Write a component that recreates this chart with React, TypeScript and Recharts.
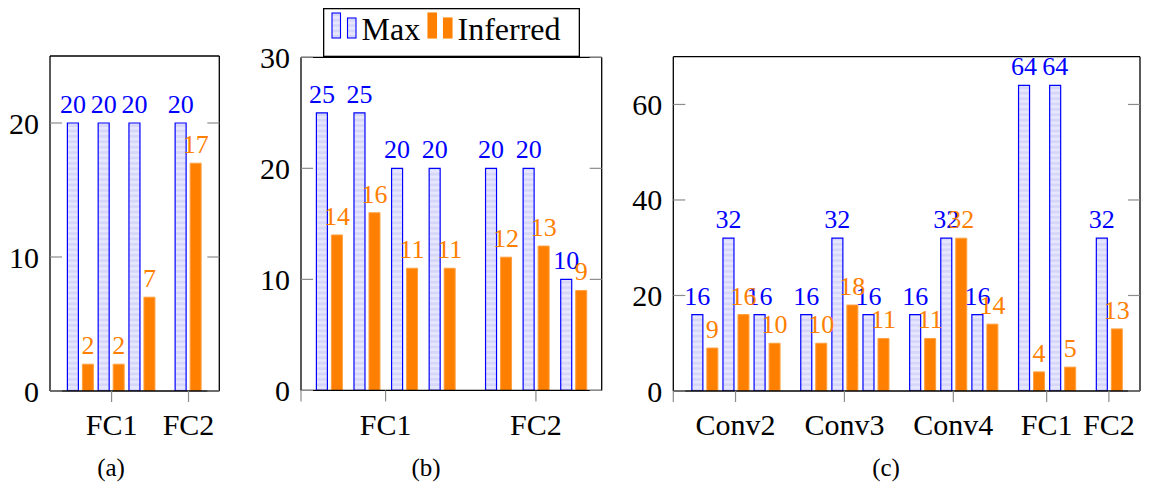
import React from 'react';
import { BarChart, Bar, XAxis, YAxis, LabelList, Legend } from 'recharts';

const W = 1159;
const H = 489;
const FONT = '"Liberation Serif", "Times New Roman", serif';
const BLUE = '#0000ff';
const ORANGE = '#ff8000';
const ORANGE_EDGE = '#ffa040';
const TICK_GRAY = '#8c8c8c';

// ---------- Panel (a) ----------
const aPositions = [0, 1, 2, 3.5];
const aMax = [20, 20, 20, 20];
const aInferred = [2, 2, 7, 17];
const aTickPositions = [1, 3.5];
const aTickLabels = ['FC1', 'FC2'];
const aYTicks = [0, 10, 20];

// ---------- Panel (b) ----------
const bPositions = [0, 1, 2, 3, 4.5, 5.5, 6.5];
const bMax = [25, 25, 20, 20, 20, 20, 10];
const bInferred = [14, 16, 11, 11, 12, 13, 9];
const bTickPositions = [-0.75, 1.5, 5.5];
const bTickLabels = ['', 'FC1', 'FC2'];
const bYTicks = [0, 10, 20, 30];

// ---------- Panel (c) ----------
const cPositions = [0, 1, 2, 3.5, 4.5, 5.5, 7, 8, 9, 10.5, 11.5, 13];
const cMax = [16, 32, 16, 16, 32, 16, 16, 32, 16, 64, 64, 32];
const cInferred = [9, 16, 10, 10, 18, 11, 11, 32, 14, 4, 5, 13];
const cTickPositions = [-1, 1, 4.5, 8, 11, 13];
const cTickLabels = ['', 'Conv2', 'Conv3', 'Conv4', 'FC1', 'FC2'];
const cYTicks = [0, 20, 40, 60];

const seriesNames = ['Max', 'Inferred'];
const captions = ['(a)', '(b)', '(c)'];

function buildRows(pos: number[], max: number[], inf: number[]) {
  return pos.map((p, i) => ({ pos: p, max: max[i], inferred: inf[i] }));
}

const YW = 40;
const XH = 60;
const TICK_LEN = 12;

const LeftTick = (props: any) => {
  const { x, y, payload } = props;
  const axisX = x + 11;
  return (
    <g>
      <line x1={axisX} x2={axisX + TICK_LEN} y1={y} y2={y} stroke={TICK_GRAY} strokeWidth={1.2} />
      <text x={x} y={y} dy="0.35em" textAnchor="end" fill="#000" fontSize={30} fontFamily={FONT}>
        {payload.value}
      </text>
    </g>
  );
};

const RightTick = (props: any) => {
  const { x, y } = props;
  return <line x1={x - TICK_LEN} x2={x} y1={y} y2={y} stroke={TICK_GRAY} strokeWidth={1.2} />;
};

const LegendBox = (props: any) => {
  const payload = (props.payload || []) as any[];
  const entryX = [9, 105];
  const textX = [38.5, 134.5];
  return (
    <svg width={257} height={49} style={{ display: 'block' }}>
      <rect x={0.65} y={0.65} width={255.7} height={47.7} fill="#fff" stroke="#000" strokeWidth={1.3} />
      {seriesNames.map((name, i) => {
        const isMax = i === 0;
        const fill = isMax ? 'url(#maxStripes)' : ORANGE;
        const stroke = isMax ? BLUE : ORANGE;
        const ex = entryX[i];
        const entry = payload.find((p: any) => p.value === name);
        const label = entry ? entry.value : name;
        return (
          <g key={name}>
            <rect x={ex} y={5} width={8.5} height={25} fill={fill} stroke={stroke} strokeWidth={1.1} />
            <rect x={ex + 15.5} y={10} width={8.5} height={20} fill={fill} stroke={stroke} strokeWidth={1.1} />
            <text x={textX[i]} y={31.7} fontSize={32} fontFamily={FONT} fill="#000">
              {label}
            </text>
          </g>
        );
      })}
    </svg>
  );
};

type PanelProps = {
  rows: any[];
  xDomain: [number, number];
  xTicks: number[];
  xLabels: string[];
  yDomain: [number, number];
  yTicks: number[];
  box: { left: number; right: number; top: number; bottom: number };
  legend?: boolean;
};

const Panel = ({ rows, xDomain, xTicks, xLabels, yDomain, yTicks, box, legend }: PanelProps) => {
  const fmt = (v: number) => {
    const i = xTicks.indexOf(v);
    return i >= 0 ? xLabels[i] : '';
  };
  return (
    <div style={{ position: 'absolute', left: 0, top: 0, width: W, height: H }}>
      <BarChart
        width={W}
        height={H}
        data={rows}
        barGap={4}
        margin={{
          top: box.top - 1,
          left: box.left - YW,
          right: W - box.right - 1,
          bottom: H - box.bottom - XH,
        }}
      >
        <XAxis
          xAxisId="b"
          dataKey="pos"
          type="number"
          domain={xDomain}
          ticks={xTicks}
          interval={0}
          allowDataOverflow
          tickFormatter={fmt}
          height={XH}
          axisLine={{ stroke: '#000', strokeWidth: 1.3 }}
          tickLine={{ stroke: TICK_GRAY, strokeWidth: 1.2 }}
          tickSize={11}
          tickMargin={12}
          tick={{ fill: '#000', fontSize: 30, fontFamily: FONT }}
        />
        <XAxis
          xAxisId="t"
          orientation="top"
          dataKey="pos"
          type="number"
          domain={xDomain}
          ticks={xTicks}
          interval={0}
          allowDataOverflow
          height={1}
          axisLine={{ stroke: '#000', strokeWidth: 1.3 }}
          tickLine={{ stroke: TICK_GRAY, strokeWidth: 1.2 }}
          tickSize={10}
          tick={false}
        />
        <YAxis
          yAxisId="l"
          type="number"
          domain={yDomain}
          ticks={yTicks}
          interval={0}
          allowDataOverflow
          width={YW}
          axisLine={{ stroke: '#000', strokeWidth: 1.3 }}
          tickLine={false}
          tickSize={0}
          tickMargin={11}
          tick={<LeftTick />}
        />
        <YAxis
          yAxisId="r"
          orientation="right"
          type="number"
          domain={yDomain}
          ticks={yTicks}
          interval={0}
          allowDataOverflow
          width={1}
          axisLine={{ stroke: '#000', strokeWidth: 1.3 }}
          tickLine={false}
          tickSize={0}
          tickMargin={0}
          tick={<RightTick />}
        />
        <Bar
          xAxisId="b"
          yAxisId="l"
          dataKey="max"
          name={seriesNames[0]}
          barSize={11}
          fill="url(#maxStripes)"
          stroke={BLUE}
          strokeWidth={1.2}
          isAnimationActive={false}
        >
          <LabelList dataKey="max" position="top" offset={10} fill={BLUE} fontSize={26} fontFamily={FONT} />
        </Bar>
        <Bar
          xAxisId="b"
          yAxisId="l"
          dataKey="inferred"
          name={seriesNames[1]}
          barSize={11}
          fill={ORANGE}
          stroke={ORANGE_EDGE}
          strokeWidth={1}
          isAnimationActive={false}
        >
          <LabelList dataKey="inferred" position="top" offset={10} fill={ORANGE} fontSize={26} fontFamily={FONT} />
        </Bar>
        {legend ? (
          <Legend
            layout="horizontal"
            verticalAlign="middle"
            align="center"
            wrapperStyle={{ left: 323, top: 8, width: 257, height: 49, right: 'auto', bottom: 'auto' }}
            content={<LegendBox />}
          />
        ) : null}
      </BarChart>
    </div>
  );
};

export default function App() {
  const aRows = buildRows(aPositions, aMax, aInferred);
  const bRows = buildRows(bPositions, bMax, bInferred);
  const cRows = buildRows(cPositions, cMax, cInferred);
  return (
    <div style={{ position: 'absolute', left: 0, top: 0, width: W, height: H, background: '#fff' }}>
      <svg width={0} height={0} style={{ position: 'absolute' }}>
        <defs>
          <pattern id="maxStripes" patternUnits="userSpaceOnUse" width={6} height={5.4}>
            <rect x={0} y={0} width={6} height={5.4} fill="#e6e6fe" />
            <rect x={0} y={0} width={6} height={2.7} fill="#d6d6f9" />
          </pattern>
        </defs>
      </svg>
      <Panel
        rows={aRows}
        xDomain={[-1, 4.5]}
        xTicks={aTickPositions}
        xLabels={aTickLabels}
        yDomain={[0, 25]}
        yTicks={aYTicks}
        box={{ left: 50, right: 219.3, top: 56, bottom: 391 }}
      />
      <Panel
        rows={bRows}
        xDomain={[-0.75, 7.25]}
        xTicks={bTickPositions}
        xLabels={bTickLabels}
        yDomain={[0, 30]}
        yTicks={bYTicks}
        box={{ left: 301, right: 601.7, top: 57.3, bottom: 390.4 }}
        legend
      />
      <Panel
        rows={cRows}
        xDomain={[-1, 14]}
        xTicks={cTickPositions}
        xLabels={cTickLabels}
        yDomain={[0, 70]}
        yTicks={cYTicks}
        box={{ left: 673.3, right: 1140, top: 56.7, bottom: 391 }}
      />
      <svg width={W} height={H} style={{ position: 'absolute', left: 0, top: 0, pointerEvents: 'none' }}>
        <text x={111} y={476} textAnchor="middle" fontSize={25} fontFamily={FONT} fill="#000">{captions[0]}</text>
        <text x={426} y={476} textAnchor="middle" fontSize={25} fontFamily={FONT} fill="#000">{captions[1]}</text>
        <text x={886} y={476} textAnchor="middle" fontSize={25} fontFamily={FONT} fill="#000">{captions[2]}</text>
      </svg>
    </div>
  );
}
